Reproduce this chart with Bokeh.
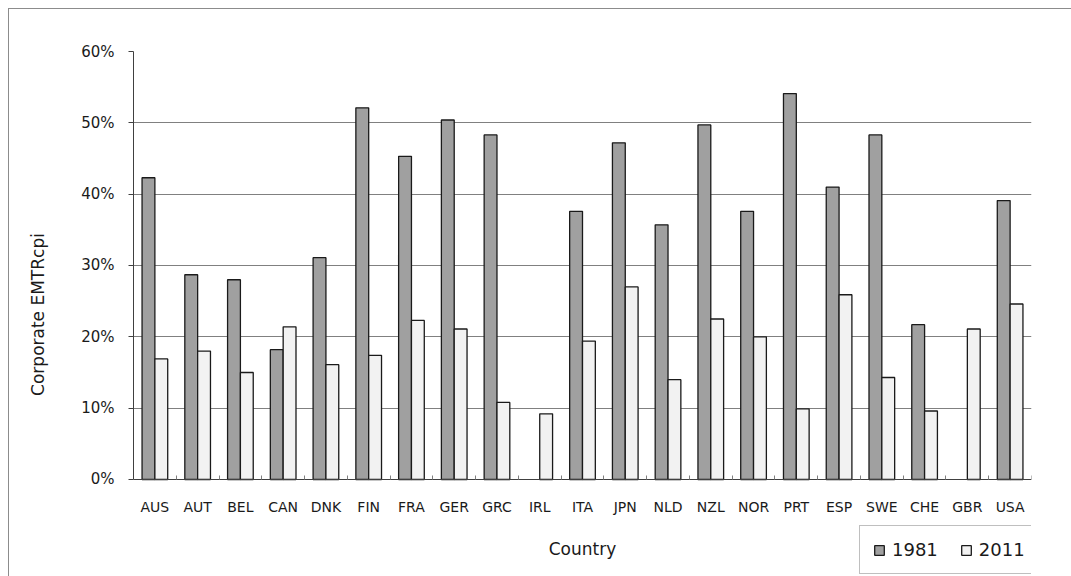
from bokeh.plotting import figure
from bokeh.models import (ColumnDataSource, FixedTicker, PrintfTickFormatter,
                          Legend, LegendItem)
from bokeh.embed import file_html
from bokeh.resources import INLINE

countries = ["AUS", "AUT", "BEL", "CAN", "DNK", "FIN", "FRA", "GER", "GRC", "IRL",
             "ITA", "JPN", "NLD", "NZL", "NOR", "PRT", "ESP", "SWE", "CHE", "GBR", "USA"]
emtr_1981 = [42.3, 28.7, 28.0, 18.2, 31.1, 52.1, 45.3, 50.4, 48.3, None,
             37.6, 47.2, 35.7, 49.7, 37.6, 54.1, 41.0, 48.3, 21.7, None, 39.1]
emtr_2011 = [16.9, 18.0, 15.0, 21.4, 16.1, 17.4, 22.3, 21.1, 10.8, 9.2,
             19.4, 27.0, 14.0, 22.5, 20.0, 9.9, 25.9, 14.3, 9.6, 21.1, 24.6]
y_ticks = [0, 10, 20, 30, 40, 50, 60]
grid_ticks = [10, 20, 30, 40, 50]

FONT = "DejaVu Sans"
centers = [i + 0.5 for i in range(len(countries))]
bounds = list(range(len(countries) + 1))

def series(vals, shift):
    xs, tops = [], []
    for c, v in zip(centers, vals):
        if v is not None:
            xs.append(c + shift)
            tops.append(v)
    return ColumnDataSource(dict(x=xs, top=tops))

# frame: top at 60%, runs down to the page bottom so the legend and
# axis title below the 0% line can be drawn inside it
p = figure(width=1063, height=568, x_range=(0, len(countries)), y_range=(-13.74, 60),
           output_backend="svg", toolbar_location=None,
           min_border_left=124, min_border_right=41, min_border_top=42, min_border_bottom=0)
p.styles = {"margin-left": "8px", "margin-top": "8px",
            "border-left": "1px solid #8c8c8c", "border-top": "1px solid #8c8c8c"}
p.outline_line_color = None
p.background_fill_color = "white"
p.border_fill_color = "white"

r1 = p.vbar(x="x", top="top", bottom=0, width=0.3, source=series(emtr_1981, -0.15),
            fill_color="#a0a0a0", line_color="#1a1a1a", line_width=1.3)
r2 = p.vbar(x="x", top="top", bottom=0, width=0.3, source=series(emtr_2011, 0.15),
            fill_color="#f2f2f2", line_color="#1a1a1a", line_width=1.3)

# x axis, pinned at 0
xa = p.xaxis[0]
xa.fixed_location = 0
xa.ticker = FixedTicker(ticks=centers, minor_ticks=bounds)
xa.major_label_overrides = {c: name for c, name in zip(centers, countries)}
xa.major_tick_line_color = None
xa.minor_tick_in = 4
xa.minor_tick_out = 0
xa.minor_tick_line_color = "#808080"
xa.axis_line_color = "#404040"
xa.major_label_text_font = FONT
xa.major_label_text_font_size = "14px"
xa.major_label_text_color = "#1a1a1a"
xa.major_label_standoff = 14
xa.axis_label = "Country"
xa.axis_label_text_font = FONT
xa.axis_label_text_font_size = "17px"
xa.axis_label_text_font_style = "normal"
xa.axis_label_text_color = "#1a1a1a"
xa.axis_label_standoff = 20

# y axis
ya = p.yaxis[0]
ya.bounds = (0, 60)
ya.ticker = FixedTicker(ticks=y_ticks)
ya.formatter = PrintfTickFormatter(format="%d%%")
ya.major_tick_in = 0
ya.major_tick_out = 5
ya.minor_tick_line_color = None
ya.major_tick_line_color = "#404040"
ya.axis_line_color = "#404040"
ya.major_label_text_font = FONT
ya.major_label_text_font_size = "15px"
ya.major_label_text_color = "#1a1a1a"
ya.major_label_standoff = 14
ya.axis_label = "Corporate EMTRcpi"
ya.axis_label_text_font = FONT
ya.axis_label_text_font_size = "17px"
ya.axis_label_text_font_style = "normal"
ya.axis_label_text_color = "#1a1a1a"
ya.axis_label_standoff = 30

p.xgrid.grid_line_color = None
p.ygrid.ticker = FixedTicker(ticks=grid_ticks)
p.ygrid.grid_line_color = "#808080"
p.ygrid.grid_line_width = 1.2

legend = Legend(items=[LegendItem(label="1981", renderers=[r1]),
                       LegendItem(label="2011", renderers=[r2])],
                orientation="horizontal", location=(726, 3),
                glyph_width=12, glyph_height=12, label_standoff=7, spacing=22,
                padding=13, margin=0,
                label_text_font=FONT, label_text_font_size="18px",
                label_text_color="#1a1a1a",
                border_line_color="#808080", border_line_width=1,
                background_fill_color="white", background_fill_alpha=1)
p.add_layout(legend, "center")

open("out.html", "w").write(file_html(p, INLINE))
